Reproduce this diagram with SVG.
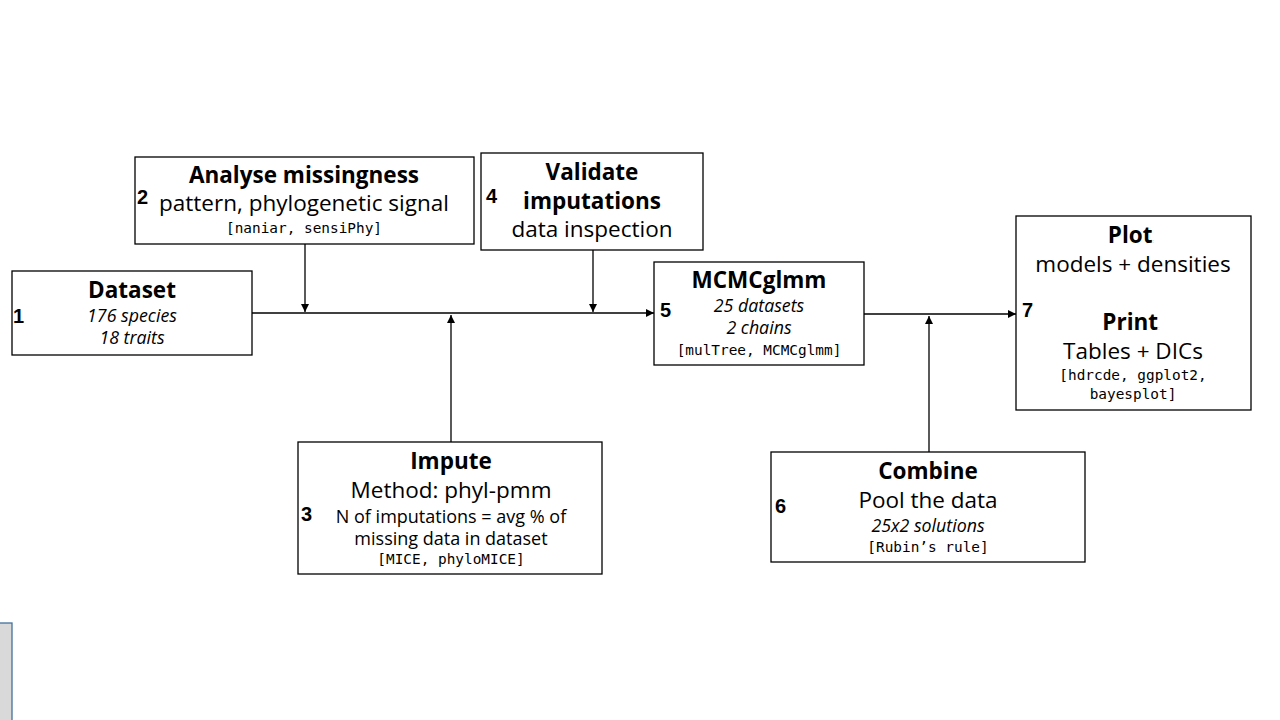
<svg xmlns="http://www.w3.org/2000/svg" width="1280" height="720" viewBox="0 0 1280 720">
<style>
.box{fill:#fff;stroke:#000;stroke-width:1.3}
.t{font-family:"Open Sans","Noto Sans",sans-serif;font-weight:bold;font-size:22.5px;text-anchor:middle;fill:#000}
.r{font-family:"Open Sans","Noto Sans",sans-serif;font-size:22.5px;text-anchor:middle;fill:#000}
.s{font-family:"Open Sans","Noto Sans",sans-serif;font-size:18px;text-anchor:middle;fill:#000}
.i{font-family:"Open Sans","Noto Sans",sans-serif;font-style:italic;font-size:17.8px;text-anchor:middle;fill:#000}
.m{font-family:"DejaVu Sans Mono","Liberation Mono",monospace;font-size:14.4px;text-anchor:middle;fill:#000}
.n{font-family:"Liberation Sans",Arial,sans-serif;font-weight:bold;font-size:20px;fill:#000}
.c{stroke:#000;stroke-width:1.3;fill:none}
</style>
<defs>
<marker id="ah" viewBox="0 0 10 10" refX="10" refY="5" markerWidth="8" markerHeight="8" markerUnits="userSpaceOnUse" orient="auto">
<path d="M0,0 L10,5 L0,10 z" fill="#000"/>
</marker>
</defs>
<rect x="-2" y="623" width="14" height="100" fill="#d9d9d9" stroke="#41719c" stroke-width="1.3"/>
<g id="connectors">
<line class="c" x1="252" y1="313" x2="654" y2="313" marker-end="url(#ah)"/>
<line class="c" x1="305" y1="244" x2="305" y2="312" marker-end="url(#ah)"/>
<line class="c" x1="593" y1="250" x2="593" y2="312" marker-end="url(#ah)"/>
<line class="c" x1="451" y1="442" x2="451" y2="315" marker-end="url(#ah)"/>
<line class="c" x1="864" y1="314" x2="1016" y2="314" marker-end="url(#ah)"/>
<line class="c" x1="929" y1="452" x2="929" y2="316" marker-end="url(#ah)"/>
</g>
<g id="node1">
<rect class="box" x="12" y="271" width="240" height="84"/>
<text class="t" x="132" y="298">Dataset</text>
<text class="i" x="132" y="322">176 species</text>
<text class="i" x="132" y="344">18 traits</text>
<text class="n" x="13" y="323">1</text>
</g>
<g id="node2">
<rect class="box" x="135" y="157" width="339" height="87"/>
<text class="t" x="304" y="183">Analyse missingness</text>
<text class="r" x="304" y="211">pattern, phylogenetic signal</text>
<text class="m" x="304" y="233">[naniar, sensiPhy]</text>
<text class="n" x="137" y="204">2</text>
</g>
<g id="node3">
<rect class="box" x="298" y="442" width="304" height="132"/>
<text class="t" x="451" y="469">Impute</text>
<text class="r" x="451" y="498">Method: phyl-pmm</text>
<text class="s" x="451" y="523">N of imputations = avg % of</text>
<text class="s" x="451" y="545">missing data in dataset</text>
<text class="m" x="451" y="564">[MICE, phyloMICE]</text>
<text class="n" x="301" y="521">3</text>
</g>
<g id="node4">
<rect class="box" x="481" y="153" width="222" height="97"/>
<text class="t" x="592" y="180">Validate</text>
<text class="t" x="592" y="209">imputations</text>
<text class="r" x="592" y="237">data inspection</text>
<text class="n" x="486" y="203">4</text>
</g>
<g id="node5">
<rect class="box" x="654" y="262" width="210" height="103"/>
<text class="t" x="759" y="288">MCMCglmm</text>
<text class="i" x="759" y="312">25 datasets</text>
<text class="i" x="759" y="334">2 chains</text>
<text class="m" x="759" y="355">[mulTree, MCMCglmm]</text>
<text class="n" x="660" y="317">5</text>
</g>
<g id="node6">
<rect class="box" x="771" y="452" width="314" height="110"/>
<text class="t" x="928" y="479">Combine</text>
<text class="r" x="928" y="508">Pool the data</text>
<text class="i" x="928" y="532">25x2 solutions</text>
<text class="m" x="928" y="552">[Rubin’s rule]</text>
<text class="n" x="775" y="513">6</text>
</g>
<g id="node7">
<rect class="box" x="1016" y="216" width="235" height="194"/>
<text class="t" x="1131" y="243">Plot<tspan font-size="6" font-weight="normal" fill="#bbb">:</tspan></text>
<text class="r" x="1133" y="272">models + densities</text>
<text class="t" x="1131" y="330">Print<tspan font-size="6" font-weight="normal" fill="#bbb">:</tspan></text>
<text class="r" x="1133" y="359">Tables + DICs</text>
<text class="m" x="1133" y="380">[hdrcde, ggplot2,</text>
<text class="m" x="1133" y="399">bayesplot]</text>
<text class="n" x="1022" y="317">7</text>
</g>
</svg>
